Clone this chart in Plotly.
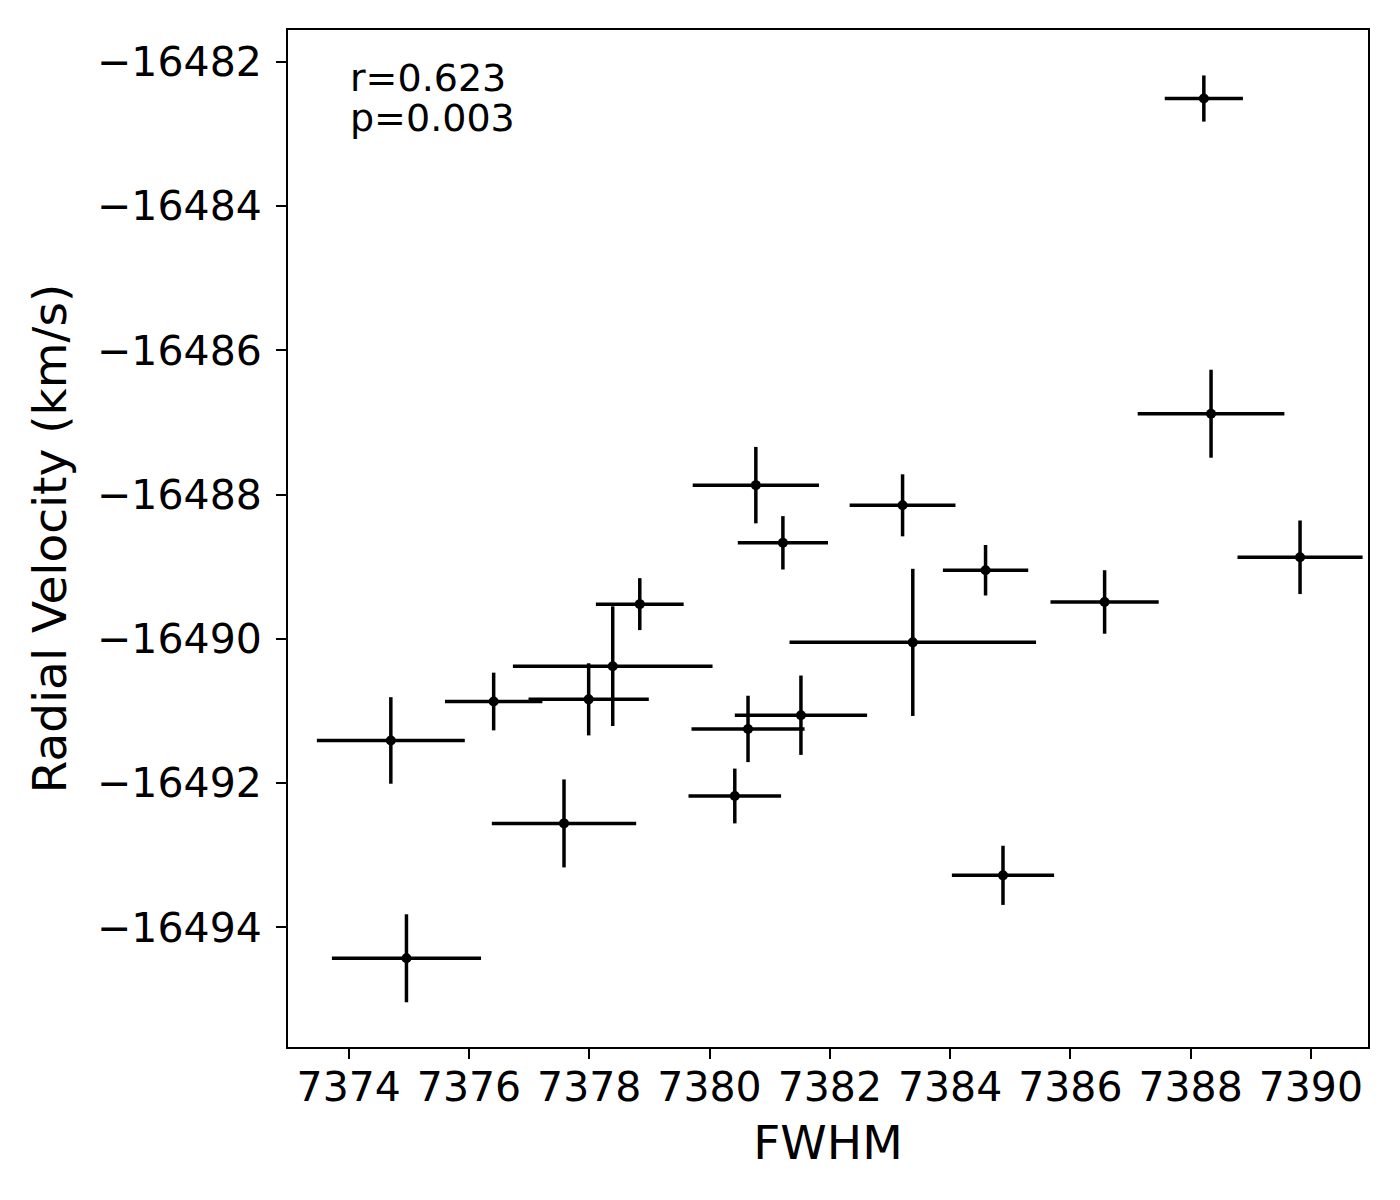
import plotly.graph_objects as go

fwhm = [7374.70, 7374.96, 7376.41, 7377.58, 7377.99, 7378.39, 7378.84, 7380.42, 7380.64, 7380.77,
        7381.22, 7381.52, 7383.21, 7383.38, 7384.59, 7384.88, 7386.57, 7388.22, 7388.34, 7389.82]
fwhm_err = [1.23, 1.24, 0.81, 1.20, 1.00, 1.66, 0.73, 0.77, 0.94, 1.05,
            0.75, 1.10, 0.88, 2.05, 0.71, 0.85, 0.90, 0.65, 1.22, 1.04]
rv = [-16491.41, -16494.43, -16490.87, -16492.56, -16490.84, -16490.38, -16489.52, -16492.18, -16491.25, -16487.87,
      -16488.67, -16491.06, -16488.15, -16490.05, -16489.05, -16493.28, -16489.49, -16482.51, -16486.88, -16488.87]
rv_err = [0.60, 0.61, 0.40, 0.61, 0.50, 0.83, 0.36, 0.38, 0.46, 0.53,
          0.37, 0.55, 0.43, 1.02, 0.35, 0.41, 0.44, 0.32, 0.61, 0.51]

stats_text = ["r=0.623", "p=0.003"]

font = "DejaVu Sans"

fig = go.Figure()
fig.add_trace(go.Scatter(
    x=fwhm, y=rv, mode="markers",
    marker=dict(color="black", size=10),
    error_x=dict(type="data", array=fwhm_err, color="black", thickness=3.5, width=0),
    error_y=dict(type="data", array=rv_err, color="black", thickness=3.5, width=0),
    showlegend=False,
))

for i, t in enumerate(stats_text):
    fig.add_annotation(
        x=0.056, y=0.953 - i * 0.040, xref="paper", yref="paper",
        xanchor="left", yanchor="middle", text=t, showarrow=False,
        font=dict(family=font, size=38, color="black"),
    )

axis_common = dict(
    showline=True, linecolor="black", linewidth=2, mirror=True,
    ticks="outside", ticklen=10, tickwidth=1.6, tickcolor="black",
    showgrid=False, zeroline=False,
    tickfont=dict(family=font, size=41, color="black"),
)

# page body has an 8px margin, so the figure is made 8px smaller
fig.update_layout(
    width=1392, height=1192,
    margin=dict(l=280, r=32, t=22, b=153),
    plot_bgcolor="white", paper_bgcolor="white",
    xaxis=dict(range=[7372.99, 7390.95], dtick=2, tick0=7374, tickformat="d", ticklabelstandoff=-7,
               title=dict(text="FWHM", font=dict(family=font, size=47, color="black"), standoff=16),
               **axis_common),
    yaxis=dict(range=[-16495.66, -16481.56], dtick=2, tick0=-16482, tickformat="d", ticklabelstandoff=6,
               title=dict(text="Radial Velocity (km/s)", font=dict(family=font, size=47, color="black"), standoff=16),
               **axis_common),
)

fig.write_html("out.html")
